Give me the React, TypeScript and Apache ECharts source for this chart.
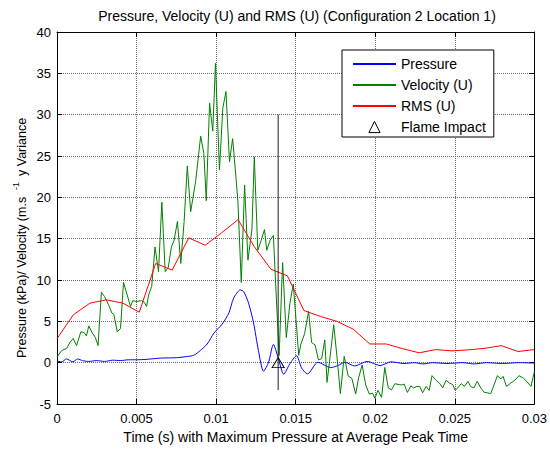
import React, { useEffect, useRef } from 'react';
import * as echarts from 'echarts';

const TITLE = 'Pressure, Velocity (U) and RMS (U) (Configuration 2 Location 1)';
const X_LABEL = 'Time (s) with Maximum Pressure at Average Peak Time';
const Y_LABEL_MAIN = 'Pressure (kPa)/ Velocity (m.s';
const Y_LABEL_SUP = '-1';
const Y_LABEL_END = 'y Variance';
const SERIES_NAMES = ['Pressure', 'Velocity (U)', 'RMS (U)', 'Flame Impact'];

// Pressure (kPa)
const pressureT = [0, 0.0003, 0.0006, 0.001, 0.0013, 0.0016, 0.002, 0.0025, 0.003, 0.0035, 0.004, 0.0045, 0.005, 0.0056, 0.0065, 0.0075, 0.0082, 0.0086, 0.009, 0.00944, 0.00986, 0.01037, 0.0108, 0.0111, 0.01152, 0.01173, 0.01204, 0.01235, 0.01266, 0.01298, 0.0133, 0.0136, 0.0139, 0.01425, 0.01464, 0.01505, 0.01537, 0.01574, 0.0164, 0.0172, 0.01765, 0.0181, 0.0187, 0.0195, 0.0203, 0.021, 0.0218, 0.0225, 0.023, 0.0236, 0.0245, 0.0255, 0.0262, 0.027, 0.028, 0.029, 0.03];
const pressureV = [0.2, 0.1, 0.45, 0.1, 0.45, 0.25, 0.15, 0.25, 0.15, 0.3, 0.25, 0.35, 0.35, 0.4, 0.55, 0.6, 0.75, 0.9, 1.46, 2.26, 3.57, 4.64, 6.0, 7.8, 8.8, 8.6, 7.2, 4.83, 1.46, -1.04, 0.07, 2.2, 0.6, -1.4, -0.12, 0.85, -0.64, -1.36, 0.05, -0.6, -0.35, 0.05, -0.4, 0.15, -0.35, 0.1, -0.1, 0.0, -0.15, 0.0, -0.1, 0.0, -0.15, 0.0, -0.1, 0.0, -0.05];

// Velocity (U)
const velocityT = [0, 0.00029, 0.00061, 0.00081, 0.00102, 0.00123, 0.0015, 0.0017, 0.00185, 0.002, 0.0022, 0.00241, 0.00258, 0.00279, 0.00299, 0.00324, 0.00345, 0.00357, 0.00379, 0.00399, 0.00418, 0.00441, 0.00462, 0.00476, 0.00497, 0.00532, 0.00549, 0.00563, 0.00576, 0.00595, 0.00616, 0.00638, 0.00659, 0.0068, 0.00699, 0.00719, 0.00736, 0.00757, 0.00778, 0.00799, 0.00819, 0.0084, 0.00871, 0.00903, 0.00923, 0.00938, 0.00959, 0.00979, 0.00996, 0.01021, 0.01042, 0.01062, 0.01084, 0.01104, 0.01127, 0.01137, 0.01158, 0.01179, 0.012, 0.01225, 0.0124, 0.01262, 0.01283, 0.01304, 0.01318, 0.01339, 0.0136, 0.01374, 0.01396, 0.01418, 0.01441, 0.01464, 0.01485, 0.01499, 0.01519, 0.01533, 0.01556, 0.01581, 0.016, 0.01622, 0.01643, 0.01663, 0.01683, 0.01697, 0.0172, 0.01739, 0.01759, 0.01781, 0.01805, 0.0183, 0.01853, 0.01877, 0.01896, 0.01918, 0.0194, 0.01963, 0.01984, 0.01998, 0.02017, 0.0204, 0.0206, 0.02082, 0.02102, 0.02123, 0.0215, 0.02165, 0.02182, 0.02202, 0.02224, 0.02241, 0.02262, 0.0228, 0.02298, 0.02319, 0.02339, 0.02357, 0.02382, 0.02403, 0.02424, 0.02445, 0.02467, 0.02487, 0.02502, 0.02519, 0.0254, 0.02561, 0.02583, 0.02599, 0.0262, 0.02641, 0.02663, 0.02684, 0.02704, 0.02726, 0.02751, 0.02768, 0.02789, 0.02803, 0.02825, 0.02852, 0.02877, 0.02903, 0.0293, 0.02951, 0.02979, 0.03];
const velocityV = [0.7, 1.46, 1.74, 2.45, 2.93, 2.06, 3.73, 3.64, 3.25, 4.44, 3.64, 3.05, 2.06, 8.5, 8.0, 7.0, 6.0, 5.83, 3.73, 4.12, 9.7, 8.2, 6.8, 7.5, 7.4, 7.5, 7.3, 6.8, 8.2, 9.2, 14.0, 11.0, 19.4, 11.0, 11.5, 14.0, 14.8, 17.1, 12.0, 17.1, 23.8, 18.25, 21.9, 27.4, 25.3, 19.6, 31.4, 28.0, 36.2, 23.3, 30.8, 32.8, 24.3, 27.1, 21.9, 19.5, 9.7, 21.5, 12.4, 16.1, 24.9, 13.6, 14.8, 16.1, 13.6, 14.8, 15.4, 9.6, 0.87, 12.1, 3.05, 7.2, 9.5, 6.0, 0.9, 2.26, 3.5, 6.2, 2.45, 2.14, 0.35, 0.47, 2.75, -2.38, 1.3, 4.6, 0.83, -3.73, 0.77, -1.6, -1.9, -3.8, -1.8, -0.28, -2.7, -3.8, -3.7, -4.3, -3.35, -4.2, -0.58, -3.05, -3.3, -2.55, -2.65, -2.7, -2.6, -3.6, -2.8, -3.06, -2.87, -2.9, -3.65, -2.87, -3.35, -1.57, -2.14, -2.46, -3.06, -2.14, -2.46, -2.66, -3.35, -3.06, -2.54, -2.87, -2.26, -2.87, -3.06, -2.26, -3.06, -3.58, -3.65, -3.75, -2.46, -1.57, -1.98, -1.65, -2.87, -2.46, -2.14, -1.57, -1.86, -2.26, -2.87, -1.1];

// RMS (U)
const rmsT = [0, 0.00103, 0.00207, 0.0031, 0.00414, 0.00517, 0.0062, 0.00724, 0.00828, 0.00931, 0.01034, 0.01138, 0.01241, 0.01345, 0.01448, 0.01552, 0.01655, 0.01759, 0.01862, 0.01966, 0.02069, 0.02172, 0.02276, 0.02379, 0.02483, 0.02586, 0.0269, 0.02793, 0.02897, 0.03];
const rmsV = [2.9, 5.8, 7.2, 7.6, 7.2, 6.1, 12.0, 11.2, 15.1, 14.2, 15.7, 17.3, 14.0, 11.3, 10.5, 6.3, 5.6, 5.0, 4.05, 2.26, 2.26, 1.7, 1.19, 1.58, 1.43, 1.55, 1.74, 2.06, 1.35, 1.58];

// Flame impact
const flameT = [0.0139];
const flameV = [0];
const flameLineV = [30, -3.3];

const FONT = "'Liberation Sans', Arial, Helvetica, sans-serif";

const zip = (t: number[], v: number[]) => t.map((x, i) => [x, v[i]]);

export default function App() {
  const ref = useRef<HTMLDivElement>(null);
  useEffect(() => {
    if (!ref.current) return;
    const chart = echarts.init(ref.current, null, { renderer: 'svg' });
    const boxAxisLine = { show: true, onZero: false, lineStyle: { color: '#000', width: 1 } };
    const tick = { show: true, inside: true, length: 5, lineStyle: { color: '#000', width: 1 } };
    const grid = { show: true, lineStyle: { color: '#666', type: 'dotted', width: 1 } };
    const fmt = (v: number) => String(parseFloat(v.toFixed(4)));
    chart.setOption({
      animation: false,
      textStyle: { fontFamily: FONT },
      grid: { left: 57, right: 12, top: 32, bottom: 40 },
      xAxis: [
        {
          type: 'value', min: 0, max: 0.03, interval: 0.005, position: 'bottom',
          axisLine: boxAxisLine, axisTick: tick, splitLine: grid,
          axisLabel: { color: '#000', fontSize: 13, margin: 8, formatter: fmt },
          name: X_LABEL, nameLocation: 'middle', nameGap: 26,
          nameTextStyle: { color: '#000', fontSize: 14 },
        },
        {
          type: 'value', min: 0, max: 0.03, interval: 0.005, position: 'top',
          axisLine: boxAxisLine, axisTick: tick, splitLine: { show: false },
          axisLabel: { show: false },
        },
      ],
      yAxis: [
        {
          type: 'value', min: -5, max: 40, interval: 5, position: 'left',
          axisLine: boxAxisLine, axisTick: tick, splitLine: grid,
          axisLabel: { color: '#000', fontSize: 13, margin: 6 },
        },
        {
          type: 'value', min: -5, max: 40, interval: 5, position: 'right',
          axisLine: boxAxisLine, axisTick: tick, splitLine: { show: false },
          axisLabel: { show: false },
        },
      ],
      legend: {
        data: [
          { name: SERIES_NAMES[0], itemStyle: { opacity: 0 } },
          { name: SERIES_NAMES[1], itemStyle: { opacity: 0 } },
          { name: SERIES_NAMES[2], itemStyle: { opacity: 0 } },
          { name: SERIES_NAMES[3], itemStyle: { borderWidth: 1, borderColor: '#000', color: 'rgba(0,0,0,0)' } },
        ],
        orient: 'vertical', left: 342, top: 50,
        padding: [7, 8, 3, 10], itemGap: 7, itemWidth: 43, itemHeight: 14,
        backgroundColor: '#fff', borderColor: '#000', borderWidth: 1,
        textStyle: { color: '#000', fontSize: 14, fontFamily: FONT },
      },
      graphic: [
        {
          type: 'text', x: 297, y: 16,
          style: { text: TITLE, fontSize: 14, fontFamily: FONT, fill: '#000', textAlign: 'center', textVerticalAlign: 'middle' },
        },
        {
          type: 'text', x: 22, y: 358, rotation: Math.PI / 2,
          style: { text: Y_LABEL_MAIN, fontSize: 12.5, fontFamily: FONT, fill: '#000', textAlign: 'left', textVerticalAlign: 'middle' },
        },
        {
          type: 'text', x: 16, y: 190, rotation: Math.PI / 2,
          style: { text: Y_LABEL_SUP, fontSize: 9, fontFamily: FONT, fill: '#000', textAlign: 'left', textVerticalAlign: 'middle' },
        },
        {
          type: 'text', x: 22, y: 176, rotation: Math.PI / 2,
          style: { text: Y_LABEL_END, fontSize: 12.5, fontFamily: FONT, fill: '#000', textAlign: 'left', textVerticalAlign: 'middle' },
        },
      ],
      series: [
        {
          name: SERIES_NAMES[0], type: 'line', data: zip(pressureT, pressureV), symbol: 'none', smooth: 0.25,
          lineStyle: { color: '#0000ff', width: 1 }, itemStyle: { color: '#0000ff' },
        },
        {
          name: SERIES_NAMES[1], type: 'line', data: zip(velocityT, velocityV), symbol: 'none',
          lineStyle: { color: '#008000', width: 1 }, itemStyle: { color: '#008000' },
        },
        {
          name: SERIES_NAMES[2], type: 'line', data: zip(rmsT, rmsV), symbol: 'none',
          lineStyle: { color: '#ff0000', width: 1 }, itemStyle: { color: '#ff0000' },
        },
        {
          type: 'line', data: flameLineV.map((v) => [flameT[0], v]), symbol: 'none', silent: true,
          lineStyle: { color: '#222', width: 1 },
        },
        {
          name: SERIES_NAMES[3], type: 'line', data: zip(flameT, flameV), symbol: 'triangle', symbolSize: [12, 10],
          showSymbol: true, lineStyle: { opacity: 0 },
          itemStyle: { color: 'rgba(0,0,0,0)', borderColor: '#000', borderWidth: 1 }, z: 5,
        },
      ],
    });
    return () => chart.dispose();
  }, []);
  return <div ref={ref} style={{ position: 'fixed', left: 0, top: 0, width: 550, height: 449, background: '#fff' }} />;
}
